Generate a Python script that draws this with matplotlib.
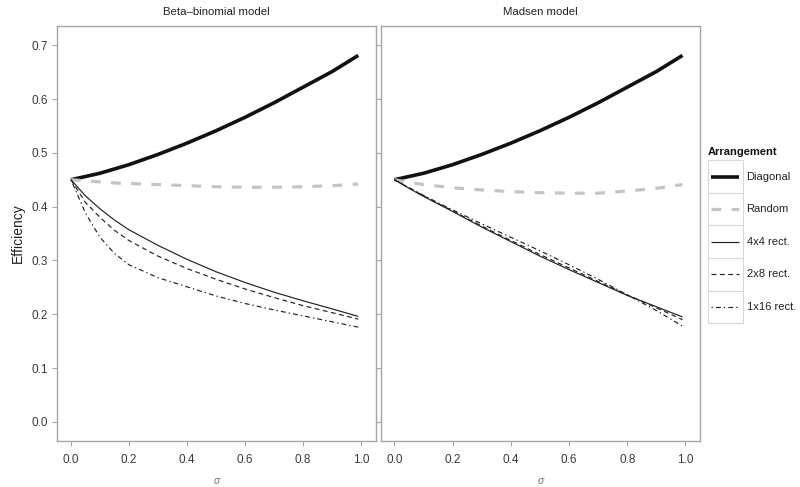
import numpy as np
import matplotlib
matplotlib.use("Agg")
import matplotlib.pyplot as plt
from matplotlib.lines import Line2D
from matplotlib.patches import Rectangle

plt.rcParams['font.family'] = ['Liberation Sans', 'DejaVu Sans']
plt.rcParams['lines.scale_dashes'] = False

# ===== data =====
sigma = [0.0, 0.05, 0.1, 0.15, 0.2, 0.3, 0.4, 0.5, 0.6, 0.7, 0.8, 0.9, 0.99]
panels = ["Beta\u2013binomial model", "Madsen model"]
arrangements = ["Diagonal", "Random", "4x4 rect.", "2x8 rect.", "1x16 rect."]

bb_diagonal = [0.450, 0.456, 0.462, 0.470, 0.478, 0.497, 0.518, 0.541, 0.566, 0.593, 0.622, 0.651, 0.681]
bb_random   = [0.450, 0.448, 0.446, 0.444, 0.443, 0.441, 0.439, 0.437, 0.436, 0.436, 0.437, 0.439, 0.442]
bb_4x4      = [0.450, 0.420, 0.396, 0.375, 0.357, 0.328, 0.302, 0.279, 0.259, 0.241, 0.225, 0.210, 0.196]
bb_2x8      = [0.450, 0.408, 0.380, 0.356, 0.337, 0.308, 0.285, 0.265, 0.247, 0.231, 0.216, 0.203, 0.191]
bb_1x16     = [0.450, 0.388, 0.343, 0.313, 0.292, 0.268, 0.251, 0.234, 0.220, 0.208, 0.197, 0.186, 0.176]

md_diagonal = [0.450, 0.456, 0.462, 0.470, 0.478, 0.497, 0.518, 0.541, 0.566, 0.593, 0.622, 0.651, 0.681]
md_random   = [0.450, 0.445, 0.441, 0.438, 0.435, 0.431, 0.428, 0.426, 0.425, 0.425, 0.429, 0.434, 0.441]
md_4x4      = [0.450, 0.434, 0.419, 0.405, 0.391, 0.362, 0.335, 0.308, 0.283, 0.259, 0.235, 0.214, 0.195]
md_2x8      = [0.450, 0.435, 0.420, 0.406, 0.392, 0.364, 0.337, 0.311, 0.286, 0.261, 0.236, 0.212, 0.190]
md_1x16     = [0.450, 0.435, 0.421, 0.407, 0.394, 0.368, 0.343, 0.318, 0.292, 0.265, 0.236, 0.207, 0.178]

series = [
    [bb_diagonal, bb_random, bb_4x4, bb_2x8, bb_1x16],
    [md_diagonal, md_random, md_4x4, md_2x8, md_1x16],
]

# ===== styles =====
styles = [
    dict(color="#111111", lw=2.6, ls="-"),
    dict(color="#c4c4c4", lw=2.3, ls=(0, (7, 7.5))),
    dict(color="#222222", lw=0.85, ls="-"),
    dict(color="#222222", lw=0.85, ls=(0, (3.5, 2.5))),
    dict(color="#222222", lw=0.85, ls=(0, (1, 2.2, 3.5, 2.2))),
]
border = "#a6a6a6"
txt = "#3a3a3a"

fig = plt.figure(figsize=(8.0, 4.87), dpi=100)
axes_pos = [[0.0716, 0.095, 0.398, 0.852], [0.476, 0.095, 0.399, 0.852]]

for i, pos in enumerate(axes_pos):
    ax = fig.add_axes(pos)
    for ys, st in zip(series[i], styles):
        ax.plot(sigma, ys, solid_capstyle="butt", dash_capstyle="butt", **st)
    ax.set_xlim(-0.047, 1.05)
    ax.set_ylim(-0.035, 0.736)
    ax.set_xticks([0.0, 0.2, 0.4, 0.6, 0.8, 1.0])
    ax.set_xticklabels(["0.0", "0.2", "0.4", "0.6", "0.8", "1.0"])
    ax.set_yticks([0.0, 0.1, 0.2, 0.3, 0.4, 0.5, 0.6, 0.7])
    if i == 0:
        ax.set_yticklabels(["0.0", "0.1", "0.2", "0.3", "0.4", "0.5", "0.6", "0.7"])
        ax.set_ylabel("Efficiency", fontsize=10, color="#222222", labelpad=5)
    else:
        ax.set_yticklabels([])
        ax.tick_params(axis="y", length=0)
    for sp in ax.spines.values():
        sp.set_color(border)
        sp.set_linewidth(1.0)
    ax.tick_params(colors=border, labelcolor=txt, labelsize=8.5, length=3.8, width=0.8, pad=3)
    ax.tick_params(axis="x", pad=6)
    ax.set_xlabel("\u03c3", fontsize=7.5, color="#777777", style="italic", labelpad=7)
    ax.set_title(panels[i], fontsize=8.2, color="#222222", pad=8)

# ===== legend drawn as key boxes =====
lax = fig.add_axes([0.884, 0.326, 0.116, 0.39])
lax.set_xlim(0, 92)
lax.set_ylim(190, 0)
lax.axis("off")
lax.text(1, 14, "Arrangement", fontsize=8, fontweight="bold", color="#111111", va="center")
key_h = 32.6
for k, (name, st) in enumerate(zip(arrangements, styles)):
    y0 = 22 + k * key_h
    lax.add_patch(Rectangle((1, y0), 34, key_h, fill=False, ec="#d9d9d9", lw=0.8))
    lax.add_line(Line2D([4, 32], [y0 + key_h / 2] * 2, solid_capstyle="butt", dash_capstyle="butt", **st))
    lax.text(39, y0 + key_h / 2, name, fontsize=8, color="#222222", va="center")

fig.savefig("out.png", dpi=100)
